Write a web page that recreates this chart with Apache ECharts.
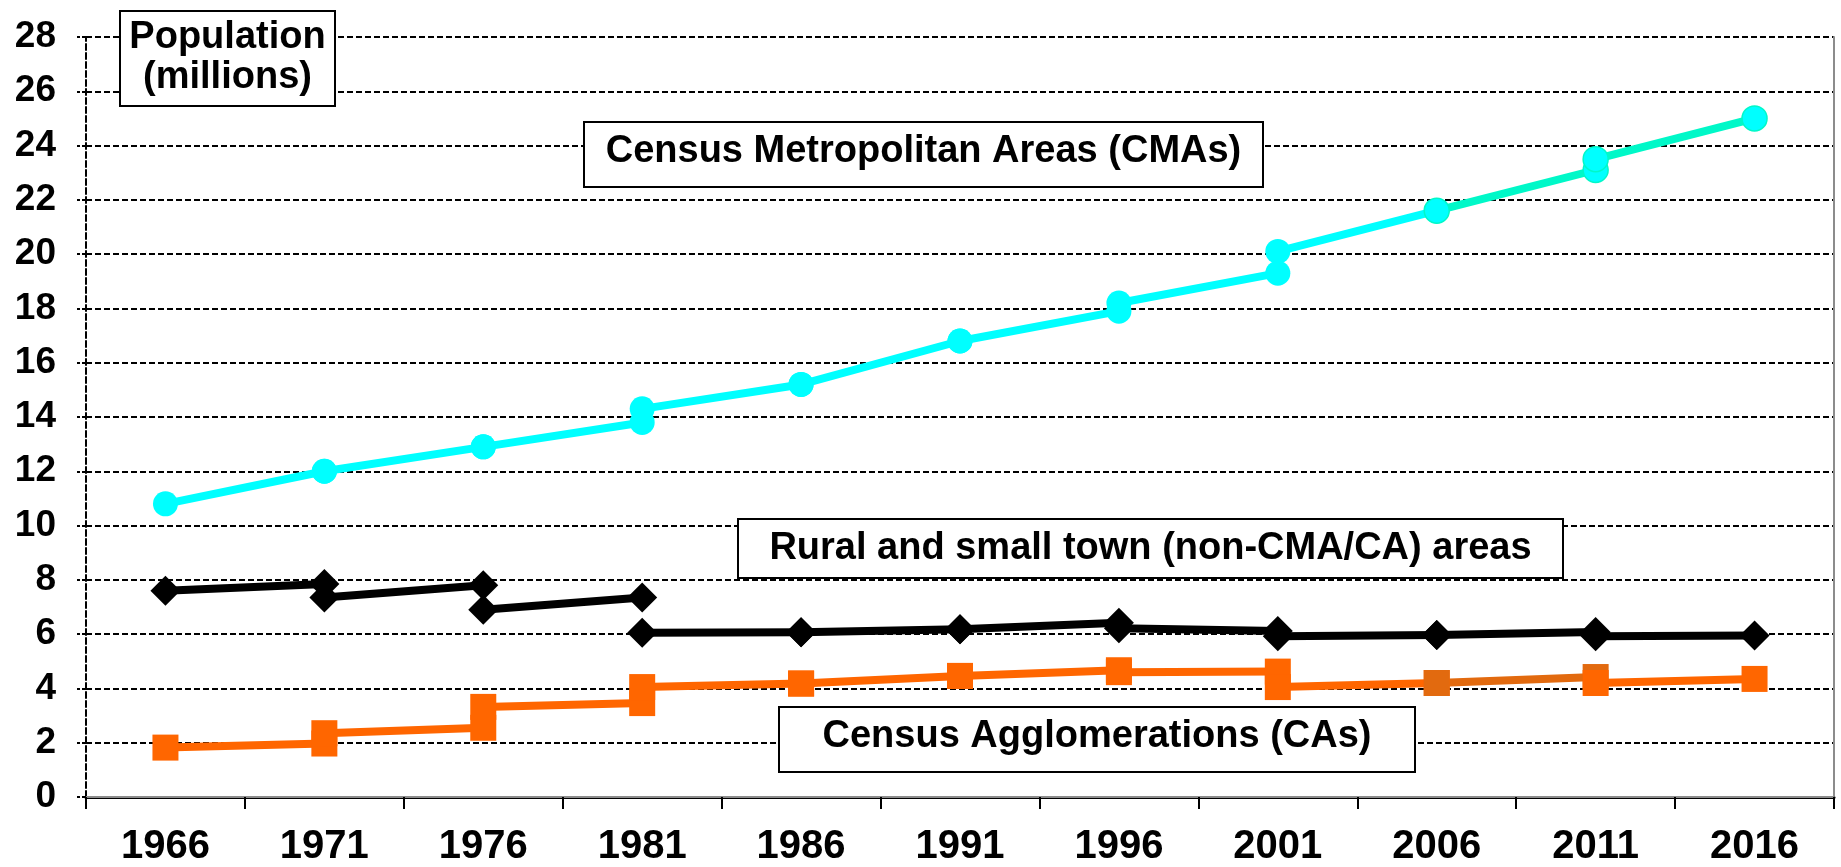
<!DOCTYPE html>
<html>
<head>
<meta charset="utf-8">
<style>
html,body{margin:0;padding:0;background:#fff;}
#chart{width:1841px;height:867px;}
</style>
<script src="https://cdn.jsdelivr.net/npm/echarts@6/dist/echarts.min.js"></script>
</head>
<body>
<div id="chart"></div>
<script>
// Census years (category axis)
const years = ['1966','1971','1976','1981','1986','1991','1996','2001','2006','2011','2016'];

// Each census-to-census segment k runs from years[k] to years[k+1].
// "Start" = value at years[k] (boundaries of the later census), "End" = value at years[k+1].
const cmaStart   = [10.8, 12.0, 12.9, 14.3, 15.2, 16.8, 18.2, 20.1, 21.6, 23.5];
const cmaEnd     = [12.0, 12.9, 13.8, 15.2, 16.8, 17.9, 19.3, 21.6, 23.1, 25.0];

const ruralStart = [7.6, 7.35, 6.9, 6.05, 6.07, 6.18, 6.22, 5.92, 5.97, 5.92];
const ruralEnd   = [7.85, 7.8, 7.35, 6.07, 6.18, 6.42, 6.12, 5.97, 6.08, 5.95];

const caStart    = [1.82, 2.35, 3.32, 4.05, 4.18, 4.46, 4.6, 4.05, 4.2, 4.2];
const caEnd      = [1.97, 2.55, 3.46, 4.18, 4.46, 4.67, 4.62, 4.2, 4.42, 4.35];

const FONT = '"Liberation Sans", Arial, sans-serif';

function segSeries(name, starts, ends, styleFor) {
  const out = [];
  for (let k = 0; k < starts.length; k++) {
    const st = styleFor(k);
    out.push({
      name: name,
      type: 'line',
      data: [[years[k], starts[k]], [years[k + 1], ends[k]]],
      symbol: st.symbol,
      symbolSize: st.symbolSize,
      showSymbol: true,
      lineStyle: { color: st.line, width: st.width },
      itemStyle: { color: st.marker, borderColor: st.markerBorder || st.marker, borderWidth: st.markerBorder ? 1.5 : 0 },
      emphasis: { disabled: true },
      z: 3
    });
  }
  return out;
}

const series = []
  .concat(segSeries('CMA', cmaStart, cmaEnd, k => ({
    symbol: 'circle', symbolSize: 25, width: 8,
    line: k >= 8 ? '#00F8C8' : '#00FFFF',
    marker: '#00FFFF',
    markerBorder: k >= 8 ? '#00F8C8' : null
  })))
  .concat(segSeries('Rural', ruralStart, ruralEnd, k => ({
    symbol: 'diamond', symbolSize: 30, width: 8,
    line: '#000000', marker: '#000000'
  })))
  .concat(segSeries('CA', caStart, caEnd, k => ({
    symbol: 'rect', symbolSize: 26, width: 8,
    line: k === 8 ? '#E26A0F' : '#FF6600',
    marker: k === 8 ? '#E26A0F' : '#FF6600'
  })));

function box(x1, y1, x2, y2, lines, capCenters) {
  const els = [{
    type: 'rect',
    shape: { x: x1, y: y1, width: x2 - x1, height: y2 - y1 },
    style: { fill: '#fff', stroke: '#000', lineWidth: 2 },
    z: 10
  }];
  lines.forEach((t, i) => {
    els.push({
      type: 'text',
      x: (x1 + x2) / 2,
      y: capCenters[i],
      style: {
        text: t,
        font: 'bold 38px ' + FONT,
        fill: '#000',
        align: 'center',
        verticalAlign: 'middle'
      },
      z: 11
    });
  });
  return els;
}

const graphics = []
  .concat(box(120, 11, 335, 106, ['Population', '(millions)'], [38, 78]))
  .concat(box(584, 122, 1263, 187, ['Census Metropolitan Areas (CMAs)'], [152]))
  .concat(box(738, 519, 1563, 578, ['Rural and small town (non-CMA/CA) areas'], [549]))
  .concat(box(779, 707, 1415, 772, ['Census Agglomerations (CAs)'], [737]));

const chart = echarts.init(document.getElementById('chart'), null, { renderer: 'canvas' });
chart.setOption({
  animation: false,
  backgroundColor: '#fff',
  grid: { left: 86, right: 7, top: 37, bottom: 70, containLabel: false },
  xAxis: [{
    type: 'category',
    data: years,
    boundaryGap: true,
    axisLine: { show: true, lineStyle: { color: '#000', width: 3 } },
    axisTick: { show: true, interval: 0, length: 12, lineStyle: { color: '#000', width: 2 } },
    axisLabel: { interval: 0, margin: 30, fontSize: 40, fontWeight: 'bold', fontFamily: FONT, color: '#000' },
    splitLine: { show: false }
  }, {
    type: 'category',
    data: years,
    position: 'top',
    axisLine: { show: true, lineStyle: { color: '#8c8c8c', width: 2 } },
    axisTick: { show: false },
    axisLabel: { show: false },
    splitLine: { show: false }
  }],
  yAxis: [{
    type: 'value',
    min: 0,
    max: 28,
    interval: 2,
    axisLine: { show: true, lineStyle: { color: '#000', width: 2, type: [6, 3] } },
    axisTick: { show: true, length: 9, lineStyle: { color: '#000', width: 2, type: [4, 2] } },
    axisLabel: { margin: 30, fontSize: 37, fontWeight: 'bold', fontFamily: FONT, color: '#000' },
    splitLine: { show: true, lineStyle: { color: '#000', width: 2, type: [6, 3] } }
  }, {
    type: 'value',
    min: 0,
    max: 28,
    interval: 2,
    position: 'right',
    axisLine: { show: true, lineStyle: { color: '#8c8c8c', width: 2 } },
    axisTick: { show: false },
    axisLabel: { show: false },
    splitLine: { show: false }
  }],
  series: series,
  graphic: graphics
});
</script>
</body>
</html>
